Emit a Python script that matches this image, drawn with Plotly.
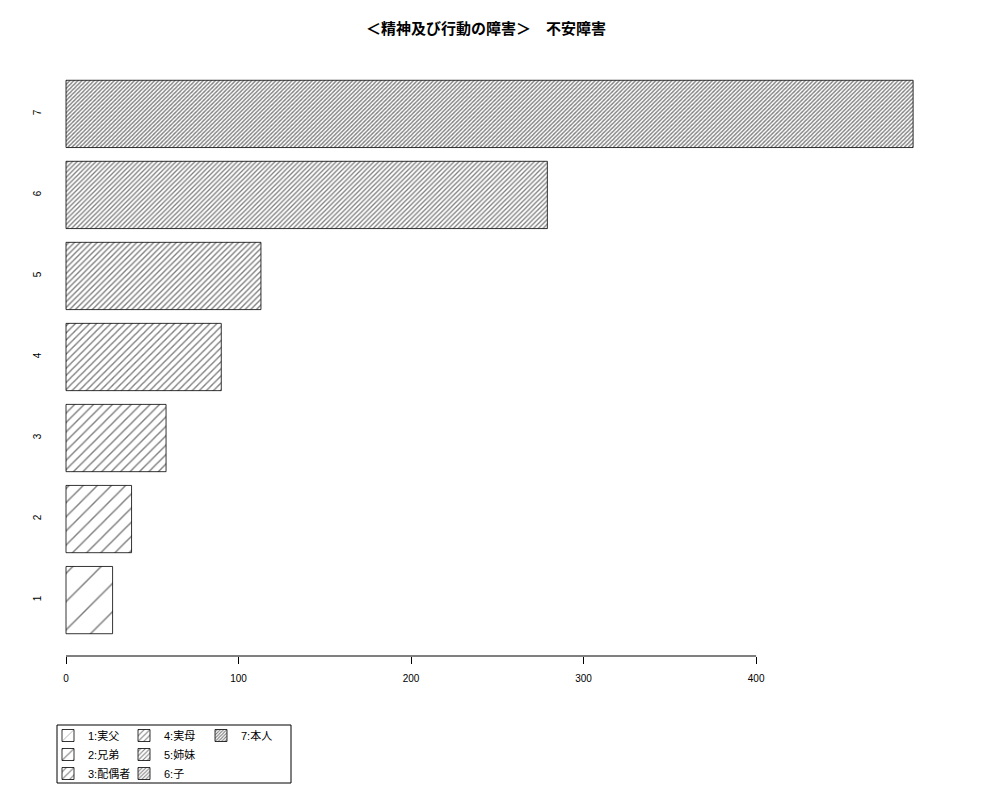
import plotly.graph_objects as go

# ---- data ----
categories = ["1", "2", "3", "4", "5", "6", "7"]
values = [27, 38, 58, 90, 113, 279, 491]
legend_labels = ["1:実父", "2:兄弟", "3:配偶者", "4:実母", "5:姉妹", "6:子", "7:本人"]
x_ticks = [0, 100, 200, 300, 400]
title_text = "＜精神及び行動の障害＞　不安障害"

# ---- style ----
base_hatch = 20.0          # px spacing for the sparsest hatch
line_px = 0.75             # target hatch line thickness
legend_groups = ["legend", "legend", "legend", "legend2", "legend2", "legend2", "legend3"]
txt_font = "Liberation Sans, Arial, Noto Sans CJK JP, sans-serif"

fig = go.Figure()
for i, (cat, val, lab) in enumerate(zip(categories, values, legend_labels)):
    size = base_hatch / (i + 1)
    solidity = min(1.0, 1 - (1 - line_px / size) ** 2)
    fig.add_trace(go.Bar(
        x=[val], y=[cat], orientation="h", name=lab,
        legend=legend_groups[i],
        marker=dict(
            color="white",
            line=dict(color="black", width=0.8),
            pattern=dict(shape="/", size=size, solidity=solidity,
                         fgcolor="black", bgcolor="white", fillmode="overlay"),
        ),
        showlegend=True,
    ))

W, H = 1000, 800
OFF = 8  # page body margin offset
# target plot area on screen: x 44..947, y 58..656
pl, pr, pt, pb = 44 - OFF, 947 - OFF, 58 - OFF, 656 - OFF
ml, mr, mt, mb = pl, W - pr, pt, H - pb
pw, ph = pr - pl, pb - pt

def px_to_paper(sx, sy):
    fx, fy = sx - OFF, sy - OFF
    return (fx - pl) / pw, (pb - fy) / ph

def legend_at(sx, sy):
    lx, ly = px_to_paper(sx, sy)
    return dict(x=lx, xref="paper", xanchor="left", y=ly, yref="paper", yanchor="top",
                bgcolor="rgba(0,0,0,0)", font=dict(family=txt_font, size=11, color="black"),
                traceorder="normal")

fig.update_layout(
    width=W, height=H,
    margin=dict(l=ml, r=mr, t=mt, b=mb, autoexpand=False),
    paper_bgcolor="white", plot_bgcolor="white",
    barmode="overlay", bargap=0.17,
    title=dict(text=title_text, x=(486 - OFF) / W, xref="container", xanchor="center",
               y=1 - (29 - OFF) / H, yref="container", yanchor="middle",
               font=dict(family="Noto Sans CJK JP", size=15, color="black", weight="bold")),
    xaxis=dict(range=[-12.75, 510.64], tickvals=x_ticks, ticks="outside", ticklen=7,
               tickcolor="black", tickwidth=1, showline=False, showgrid=False, zeroline=False,
               tickfont=dict(family=txt_font, size=10, color="black"), ticklabelstandoff=6),
    yaxis=dict(type="category", categoryorder="array", categoryarray=categories,
               range=[-0.69, 6.69], ticks="", showline=False, showgrid=False, zeroline=False,
               tickangle=-90, tickfont=dict(family=txt_font, size=10, color="black")),
    legend=legend_at(48, 721),
    legend2=legend_at(124, 721),
    legend3=legend_at(201, 721),
)

# axis line spanning only the tick range
fig.add_shape(type="line", xref="x", yref="paper", x0=min(x_ticks), x1=max(x_ticks), y0=0, y1=0,
              line=dict(color="black", width=1))

# legend frame
bx0, by0 = px_to_paper(57, 725)
bx1, by1 = px_to_paper(291, 783)
fig.add_shape(type="rect", xref="paper", yref="paper", x0=bx0, x1=bx1, y0=by1, y1=by0,
              line=dict(color="black", width=1), fillcolor="rgba(0,0,0,0)")

fig.write_html("out.html")
